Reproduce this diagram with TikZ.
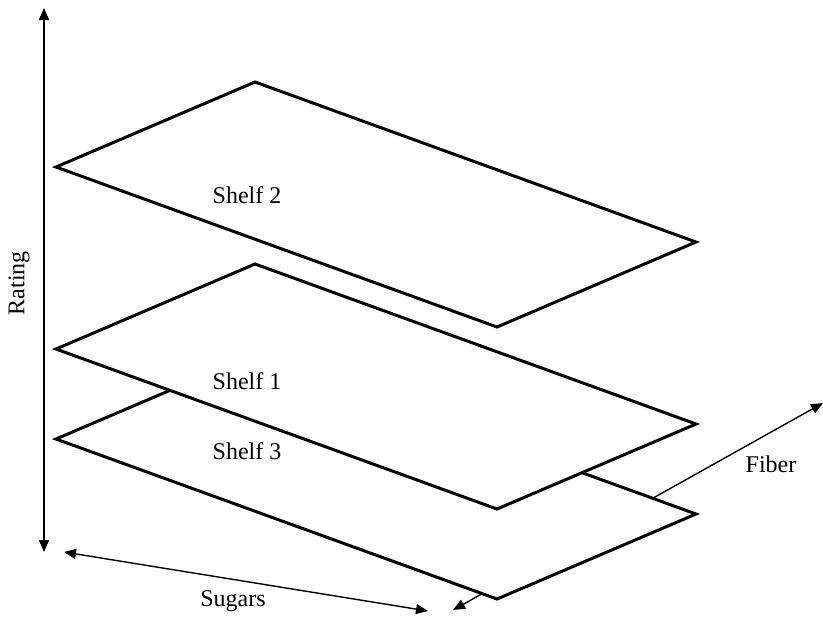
\documentclass[tikz,border=0pt]{standalone}
\usepackage{fontspec}
\setmainfont{Liberation Serif}
\usepackage{tikz}
\usetikzlibrary{arrows.meta, positioning}

\begin{document}
\begin{tikzpicture}[
    x=0.5pt, y=-0.5pt,
    shelf/.style={draw=black, fill=white, line width=1.5pt, line join=miter},
    axis/.style={{Triangle[length=6pt, width=5pt]}-{Triangle[length=6pt, width=5pt]}, line width=0.7pt},
    label/.style={font=\fontsize{12}{14}\selectfont, inner sep=0pt}
]
\useasboundingbox (0,0) rectangle (823,617);

% axis end points
\coordinate (rtop) at (44,8);
\coordinate (rbot) at (44,552);
\coordinate (sleft) at (64,552);
\coordinate (sright) at (428,611);
\coordinate (fleft) at (453,610);
\coordinate (fright) at (823,403);

\draw[axis] (rtop) -- (rbot);
\draw[axis] (sleft) -- (sright);
\draw[axis] (fleft) -- (fright);

% shelves, back to front
\draw[shelf] (56,439) -- (255,354) -- (696,514) -- (497,599) -- cycle;
\draw[shelf] (56,349) -- (255,264) -- (696,424) -- (497,509) -- cycle;
\draw[shelf] (56,167) -- (255,82) -- (696,242) -- (497,327) -- cycle;

\node[label, anchor=base] (shelf2) at (247,203) {Shelf 2};
\node[label, anchor=base] (shelf1) at (247,389) {Shelf 1};
\node[label, anchor=base] (shelf3) at (247,459) {Shelf 3};

\node[label, rotate=90] (rating) at (19,283) {Rating};
\node[label, anchor=base] (sugars) at (233,606) {Sugars};
\node[label, anchor=base] (fiber) at (771,472) {Fiber};

\end{tikzpicture}
\end{document}
